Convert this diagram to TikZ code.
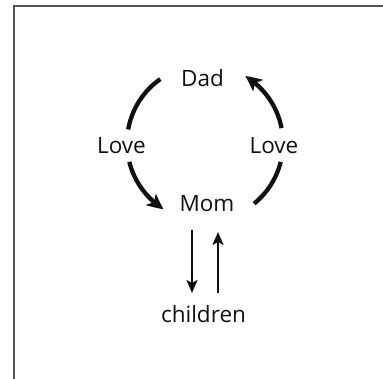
\documentclass[tikz,border=0pt]{standalone}
\usepackage{fontspec}
\setmainfont{Open Sans}
\usepackage{tikz}
\usetikzlibrary{arrows.meta,bending,positioning,calc}
\definecolor{ink}{HTML}{111111}
\definecolor{frame}{HTML}{555555}
\colorlet{arc}{ink}

\begin{document}
\begin{tikzpicture}[x=1pt,y=1pt,font=\fontsize{22.5}{26}\selectfont,
    word/.style={text=ink,anchor=base,inner sep=0pt},
    love/.style={draw=arc,line width=4.3pt},
    lovehead/.style={love,-{Stealth[length=16pt,width=15pt,inset=4pt,bend]}},
    kid/.style={draw=ink,line width=2.2pt,-{Stealth[length=13pt,width=11pt,inset=3pt]}}]
    \useasboundingbox (0,0) rectangle (383,379);
    % frame, cut off right and bottom
    \draw[frame,line width=1.3pt] (14,0) -- (14,373) -- (383,373);
    % words
    \node[word] (dad) at (202.5,292) {Dad};
    \node[word] (lovel) at (121.5,225) {Love};
    \node[word] (lover) at (274,225) {Love};
    \node[word] (mom) at (207,167) {Mom};
    \node[word] (kids) at (203.5,56) {children};
    % ring of love
    \coordinate (c) at (205,236);
    \draw[love] ($(c)+(125:78)$) arc[start angle=125,end angle=170,radius=78];
    \draw[lovehead] ($(c)+(194:78)$) arc[start angle=194,end angle=238,radius=78];
    \draw[love] ($(c)+(309:78)$) arc[start angle=309,end angle=346,radius=78];
    \draw[lovehead] ($(c)+(11:78)$) arc[start angle=11,end angle=59,radius=78];
    % mom and children
    \draw[kid] ([xshift=-15pt,yshift=-18pt]mom.base) -- ([xshift=-11.5pt,yshift=30pt]kids.base);
    \draw[kid] ([xshift=14.5pt,yshift=30pt]kids.base) -- ([xshift=11pt,yshift=-20pt]mom.base);
\end{tikzpicture}
\end{document}
